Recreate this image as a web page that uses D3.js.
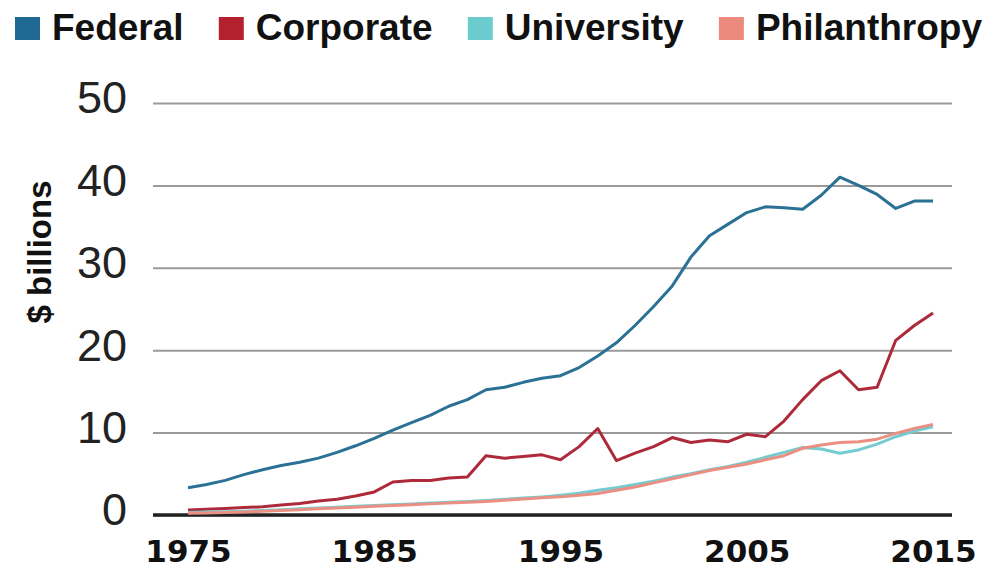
<!DOCTYPE html>
<html>
<head>
<meta charset="utf-8">
<script src="https://cdn.jsdelivr.net/npm/d3@7"></script>
<style>
body { margin: 0; background: #fff; }
</style>
</head>
<body>
<script>
var years = d3.range(1975, 2016);

var federal = [3.3, 3.7, 4.2, 4.9, 5.5, 6.0, 6.4, 6.9, 7.6, 8.4,
	9.3, 10.3, 11.2, 12.1, 13.2, 14.0, 15.2, 15.5, 16.1, 16.6,
	16.9, 17.9, 19.3, 20.9, 23.0, 25.3, 27.8, 31.3, 33.9, 35.3,
	36.7, 37.4, 37.3, 37.1, 38.8, 41.0, 40.0, 38.9, 37.2, 38.1, 38.1];

var corporate = [0.6, 0.7, 0.8, 0.9, 1.0, 1.2, 1.4, 1.7, 1.9, 2.3,
	2.8, 4.0, 4.2, 4.2, 4.5, 4.6, 7.2, 6.9, 7.1, 7.3,
	6.7, 8.3, 10.5, 6.6, 7.5, 8.3, 9.4, 8.8, 9.1, 8.9,
	9.8, 9.5, 11.4, 14.0, 16.3, 17.5, 15.2, 15.5, 21.2, 23.0, 24.5];

var university = [0.3, 0.35, 0.4, 0.45, 0.55, 0.65, 0.75, 0.85, 0.95, 1.05,
	1.15, 1.25, 1.35, 1.45, 1.55, 1.65, 1.75, 1.9, 2.05, 2.2,
	2.4, 2.65, 3.0, 3.3, 3.7, 4.1, 4.6, 5.0, 5.5, 5.9,
	6.4, 7.0, 7.6, 8.2, 8.0, 7.5, 7.9, 8.6, 9.5, 10.2, 10.7];

var philanthropy = [0.2, 0.25, 0.3, 0.35, 0.45, 0.55, 0.65, 0.75, 0.85, 0.95,
	1.05, 1.15, 1.25, 1.35, 1.45, 1.55, 1.65, 1.8, 1.95, 2.1,
	2.2, 2.4, 2.6, 3.0, 3.4, 3.9, 4.4, 4.9, 5.4, 5.8,
	6.2, 6.7, 7.2, 8.1, 8.5, 8.8, 8.9, 9.2, 9.9, 10.5, 11.0];

var seriesNames = ["Federal", "Corporate", "University", "Philanthropy"];
var seriesValues = [federal, corporate, university, philanthropy];
var seriesColors = ["#1f6894", "#b3202e", "#6ccbcf", "#ec8a7d"];
var lineColors = ["#2a7195", "#ad2a3a", "#74cbd0", "#eb8f83"];

var yTicks = [0, 10, 20, 30, 40, 50];
var xTicks = [1975, 1985, 1995, 2005, 2015];

var width = 988;
var height = 571;
var gridLeft = 153;
var gridRight = 952;

var svg = d3.select("body").append("svg")
	.attr("width", width)
	.attr("height", height);

var x = d3.scaleLinear().domain([1975, 2015]).range([188, 933]);
var y = d3.scaleLinear().domain([0, 50]).range([515, 103]);

// gridlines + y labels
var yAxis = svg.append("g")
	.attr("transform", "translate(" + gridRight + ",0)")
	.call(d3.axisLeft(y).tickValues(yTicks).tickSize(gridRight - gridLeft).tickPadding(26));
yAxis.select(".domain").remove();
yAxis.selectAll("line")
	.attr("stroke", "#9a9a9a")
	.attr("stroke-width", 2);
yAxis.selectAll("text")
	.attr("font-family", "'Liberation Sans Narrow', 'Arial Narrow', sans-serif")
	.attr("font-size", "45px")
	.attr("fill", "#222")
	.attr("dy", "0.22em");

// baseline
svg.append("line")
	.attr("x1", gridLeft)
	.attr("x2", gridRight)
	.attr("y1", y(0))
	.attr("y2", y(0))
	.attr("stroke", "#222")
	.attr("stroke-width", 3.5);

// x labels
var xAxis = svg.append("g")
	.attr("transform", "translate(0," + y(0) + ")")
	.call(d3.axisBottom(x).tickValues(xTicks).tickFormat(d3.format("d")).tickSize(0).tickPadding(25));
xAxis.select(".domain").remove();
xAxis.selectAll("text")
	.attr("font-family", "'DejaVu Sans', sans-serif")
	.attr("font-weight", "bold")
	.attr("font-size", "31px")
	.attr("fill", "#111");

// y title
svg.append("text")
	.attr("transform", "translate(51,252) rotate(-90)")
	.attr("text-anchor", "middle")
	.attr("font-family", "'Liberation Sans', Arial, sans-serif")
	.attr("font-weight", "bold")
	.attr("font-size", "33px")
	.attr("fill", "#111")
	.text("$ billions");

// lines
var line = d3.line()
	.x(function(d, i) { return x(years[i]); })
	.y(function(d) { return y(d); });

svg.selectAll("path.series")
	.data(seriesValues)
	.enter()
	.append("path")
	.attr("class", "series")
	.attr("d", line)
	.attr("fill", "none")
	.attr("stroke", function(d, i) { return lineColors[i]; })
	.attr("stroke-width", 3)
	.attr("stroke-linejoin", "round");

// legend, spread across the top
var legend = svg.append("g");
var items = legend.selectAll("g")
	.data(seriesNames)
	.enter()
	.append("g");
items.append("rect")
	.attr("width", 25)
	.attr("height", 23)
	.attr("y", 17)
	.attr("fill", function(d, i) { return seriesColors[i]; });
items.append("text")
	.attr("x", 37)
	.attr("y", 40)
	.attr("font-family", "'Liberation Sans', Arial, sans-serif")
	.attr("font-weight", "bold")
	.attr("font-size", "37px")
	.attr("fill", "#111")
	.text(function(d) { return d; });

var widths = [];
items.select("text").each(function() { widths.push(37 + this.getComputedTextLength()); });
var left = 15, right = 982;
var gap = (right - left - d3.sum(widths)) / (widths.length - 1);
var pos = left;
items.each(function(d, i) {
	d3.select(this).attr("transform", "translate(" + pos + ",0)");
	pos += widths[i] + gap;
});
</script>
</body>
</html>
